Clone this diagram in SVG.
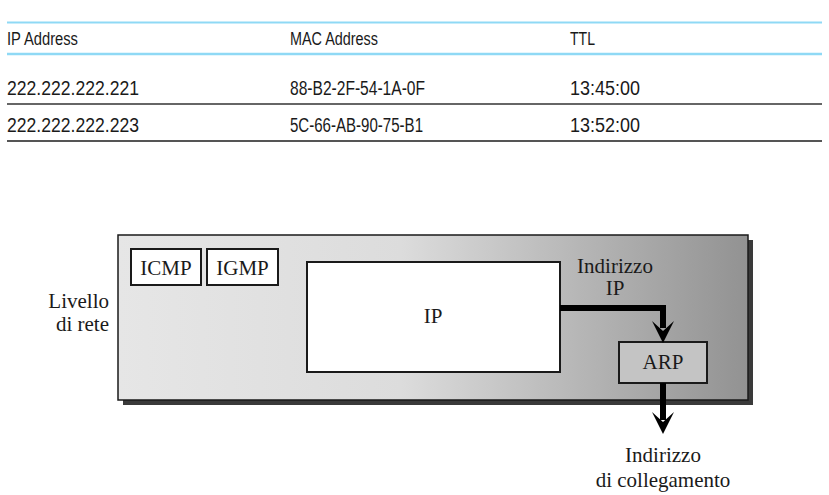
<svg xmlns="http://www.w3.org/2000/svg" width="829" height="495" viewBox="0 0 829 495">
<style>
.th{font-family:"Liberation Sans",Arial,sans-serif;font-size:18px;fill:#1a1a1a}
.tt{font-family:"Liberation Sans",Arial,sans-serif;font-size:20.5px;fill:#1a1a1a}
.sf{font-family:"Liberation Serif","Times New Roman",serif;font-size:21px;fill:#1a1a1a}
.box{fill:#fff;stroke:#1a1a1a;stroke-width:2}
.conn{fill:none;stroke:#000;stroke-width:6}
</style>
<defs>
<linearGradient id="bg" x1="0" y1="0" x2="1" y2="0">
<stop offset="0" stop-color="#e6e6e6"/>
<stop offset="0.45" stop-color="#dcdcdc"/>
<stop offset="1" stop-color="#929292"/>
</linearGradient>
</defs>
<rect width="829" height="495" fill="#fff"/>
<g id="table">
<line x1="7" y1="22.5" x2="822" y2="22.5" stroke="#8fd9f5" stroke-width="2"/>
<line x1="7" y1="54" x2="822" y2="54" stroke="#8fd9f5" stroke-width="2.5"/>
<line x1="7" y1="104" x2="822" y2="104" stroke="#333" stroke-width="1.5"/>
<line x1="7" y1="141" x2="822" y2="141" stroke="#555" stroke-width="2"/>
<text class="th" x="7" y="44.5" textLength="71" lengthAdjust="spacingAndGlyphs">IP Address</text>
<text class="th" x="290" y="44.5" textLength="88" lengthAdjust="spacingAndGlyphs">MAC Address</text>
<text class="th" x="570" y="44.5" textLength="25" lengthAdjust="spacingAndGlyphs">TTL</text>
<text class="tt" x="7" y="95" textLength="132" lengthAdjust="spacingAndGlyphs">222.222.222.221</text>
<text class="tt" x="290" y="95" textLength="135" lengthAdjust="spacingAndGlyphs">88-B2-2F-54-1A-0F</text>
<text class="tt" x="570" y="95" textLength="70" lengthAdjust="spacingAndGlyphs">13:45:00</text>
<text class="tt" x="7" y="132" textLength="132" lengthAdjust="spacingAndGlyphs">222.222.222.223</text>
<text class="tt" x="290" y="132" textLength="133" lengthAdjust="spacingAndGlyphs">5C-66-AB-90-75-B1</text>
<text class="tt" x="570" y="132" textLength="70" lengthAdjust="spacingAndGlyphs">13:52:00</text>
</g>
<g id="network-layer">
<rect x="123" y="240" width="630" height="165" fill="#3a3a3a"/>
<rect x="118" y="235" width="630" height="165" fill="url(#bg)" stroke="#1a1a1a" stroke-width="1.5"/>
<text class="sf" x="109" y="308" text-anchor="end">Livello</text>
<text class="sf" x="109" y="331" text-anchor="end">di rete</text>
</g>
<g id="icmp">
<rect class="box" x="131" y="249" width="70" height="36"/>
<text class="sf" x="166" y="275" text-anchor="middle">ICMP</text>
</g>
<g id="igmp">
<rect class="box" x="207" y="249" width="71" height="36"/>
<text class="sf" x="242.5" y="275" text-anchor="middle">IGMP</text>
</g>
<g id="ip">
<rect class="box" x="307" y="262" width="253" height="110"/>
<text class="sf" x="433" y="323" text-anchor="middle">IP</text>
</g>
<g id="arp">
<rect x="619" y="342" width="88" height="41" fill="#c4c4c4" stroke="#1a1a1a" stroke-width="2"/>
<text class="sf" x="663" y="369" text-anchor="middle">ARP</text>
</g>
<g id="connectors">
<path class="conn" d="M560,308 H663 V328"/>
<path d="M652,321 L663,331 L674,321 L663,343 Z" fill="#000"/>
<path class="conn" d="M663,383 V420"/>
<path d="M652,412 L663,422 L674,412 L663,434 Z" fill="#000"/>
</g>
<g id="labels">
<text class="sf" x="615" y="273" text-anchor="middle">Indirizzo</text>
<text class="sf" x="615" y="295" text-anchor="middle">IP</text>
<text class="sf" x="663" y="462" text-anchor="middle">Indirizzo</text>
<text class="sf" x="663" y="487" text-anchor="middle">di collegamento</text>
</g>
</svg>
